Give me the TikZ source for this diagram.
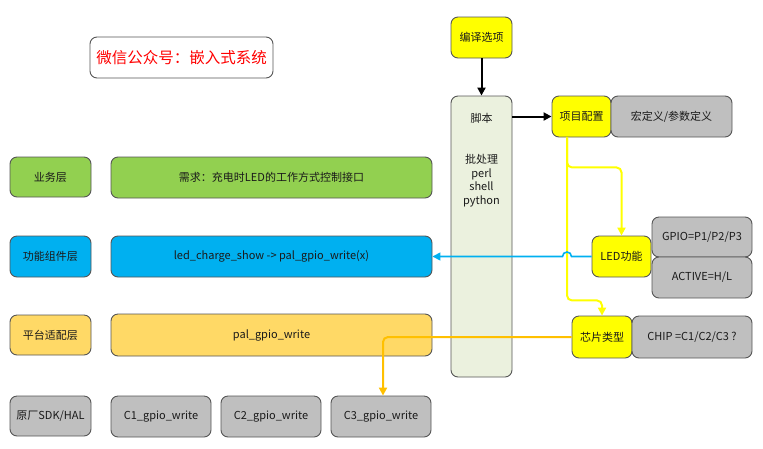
\documentclass[tikz,border=0pt]{standalone}
\usepackage{fontspec}
\setmainfont{Noto Sans CJK SC}
\usetikzlibrary{arrows.meta,calc}
\definecolor{bgreen}{HTML}{92D050}
\definecolor{bblue}{HTML}{00B0F0}
\definecolor{borange}{HTML}{FFD966}
\definecolor{bgray}{HTML}{BFBFBF}
\definecolor{byellow}{HTML}{FFFF00}
\definecolor{bjb}{HTML}{EBF1DE}
\definecolor{bborder}{HTML}{555555}
\definecolor{lorange}{HTML}{FFC000}
\definecolor{lyellow}{HTML}{FFFF00}
\definecolor{lblue}{HTML}{00B0F0}
\definecolor{txt}{HTML}{1A1A1A}
\tikzset{
  box/.style={draw=bborder, line width=0.9pt, rounded corners=7pt, inner sep=0pt,
    text=txt, font=\fontsize{11}{13.5}\selectfont, align=center},
  sz/.style args={#1x#2}{minimum width=#1pt, minimum height=#2pt},
  tip/.style={-{Triangle[length=8pt,width=8pt]}},
  conn/.style={line width=2pt, tip},
}
\begin{document}
\begin{tikzpicture}[x=1pt,y=-1pt]
\useasboundingbox (0,0) rectangle (763,448);
% title
\node[box, sz=183x41, text=red, font=\fontsize{15.5}{18}\selectfont] (title) at (181.5,57.5) {微信公众号：嵌入式系统};
% left layers
\node[box, fill=bgreen, sz=81x40] (ywc) at (50.5,177) {业务层};
\node[box, fill=bgreen, sz=321x41] (xq) at (271.5,177.5) {需求：充电时LED的工作方式控制接口};
\node[box, fill=bblue, sz=81x41] (gnc) at (50.5,256.5) {功能组件层};
\node[box, fill=bblue, sz=321x41] (ledbox) at (271.5,256.5) {led\_charge\_show -> pal\_gpio\_write(x)};
\node[box, fill=borange, sz=81x40] (ptc) at (50.5,335) {平台适配层};
\node[box, fill=borange, sz=321x42] (pal) at (271.5,335) {pal\_gpio\_write};
\node[box, fill=bgray, sz=81x40] (ycc) at (50.5,416) {原厂SDK/HAL};
\node[box, fill=bgray, sz=100x41] (c1) at (161,416.5) {C1\_gpio\_write};
\node[box, fill=bgray, sz=100x41] (c2) at (271,416.5) {C2\_gpio\_write};
\node[box, fill=bgray, sz=100x41] (c3) at (381,416.5) {C3\_gpio\_write};
% script column
\node[box, fill=byellow, sz=61x41] (by) at (481.5,37.5) {编译选项};
\node[box, fill=bjb, sz=61x281] (jb) at (481.5,236.5) {};
\node[text=txt, font=\fontsize{11}{13.5}\selectfont, inner sep=0pt] (jbt) at (481.5,118) {脚本};
\node[text=txt, font=\fontsize{11}{13.6}\selectfont, align=center, inner sep=0pt] (jbl) at (481.5,180.5) {批处理\\perl\\shell\\python};
% right side
\node[box, fill=byellow, sz=59x41] (xm) at (581.5,116.5) {项目配置};
\node[box, fill=bgray, sz=121x41] (hong) at (671.5,116.5) {宏定义/参数定义};
\node[box, fill=byellow, sz=59x41] (ledfn) at (621.5,256.5) {LED功能};
\node[box, fill=bgray, sz=100x40] (gpio) at (702,237) {GPIO=P1/P2/P3};
\node[box, fill=bgray, sz=100x41] (active) at (702,277.5) {ACTIVE=H/L};
\node[box, fill=byellow, sz=60x42] (chip) at (602,337) {芯片类型};
\node[box, fill=bgray, sz=120x42] (chipv) at (692,337) {CHIP =C1/C2/C3 ?};
% black arrows
\draw[conn, black] (by.south) -- (jb.north);
\draw[conn, black] (jb.east |- xm.west) -- (xm.west);
% yellow lines
\coordinate (yv) at ([xshift=-14.5pt]xm.south);
\draw[conn, lyellow, rounded corners=5pt] (yv) -- ++(0,30) -| (ledfn.north);
\draw[conn, lyellow, rounded corners=5pt] (yv) -- ++(0,163) -| (chip.north);
% blue line with hop
\coordinate (hop) at (yv |- ledfn.west);
\draw[conn, lblue, line width=1.6pt] (ledfn.west) -- ([xshift=4.5pt]hop) arc[start angle=0, end angle=180, radius=4.5pt] -- (ledbox.east);
% orange line
\draw[conn, lorange, rounded corners=5pt] (chip.west) -| ([xshift=2pt]c3.north);
\end{tikzpicture}
\end{document}
